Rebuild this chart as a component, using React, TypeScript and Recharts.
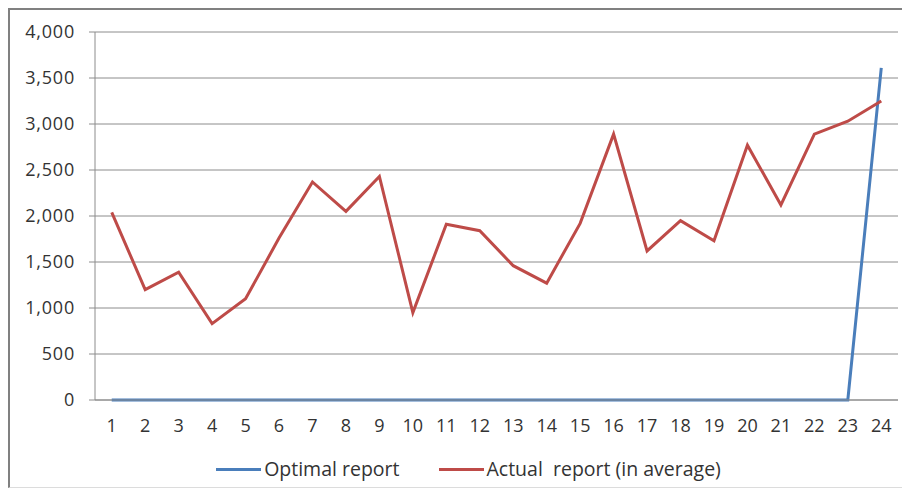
import React from 'react';
import { LineChart, Line, XAxis, YAxis, CartesianGrid } from 'recharts';

const categories = [1, 2, 3, 4, 5, 6, 7, 8, 9, 10, 11, 12, 13, 14, 15, 16, 17, 18, 19, 20, 21, 22, 23, 24];
const optimalReport = [0, 0, 0, 0, 0, 0, 0, 0, 0, 0, 0, 0, 0, 0, 0, 0, 0, 0, 0, 0, 0, 0, 0, 3610];
const actualReport = [2040, 1200, 1390, 830, 1100, 1760, 2370, 2050, 2430, 950, 1910, 1840, 1460, 1270, 1920, 2890, 1620, 1950, 1730, 2770, 2120, 2890, 3030, 3250];
const yTicks = [0, 500, 1000, 1500, 2000, 2500, 3000, 3500, 4000];
const seriesNames = ['Optimal report', 'Actual  report (in average)'];
const seriesColors = ['#4A7EBB', '#BE4B48'];

const data = categories.map((c, i) => ({ x: c, optimal: optimalReport[i], actual: actualReport[i] }));
const boundaryTicks = categories.map((c) => c - 0.5).concat(categories[categories.length - 1] + 0.5);
const xDomain = [categories[0] - 0.5, categories[categories.length - 1] + 0.5];

const FONT = '"Open Sans", sans-serif';
const TEXT = '#333333';
const GRID = '#8c8c8c';

export default function App() {
  return (
    <div
      style={{
        position: 'relative',
        width: 892,
        height: 477,
        borderLeft: '2px solid #808080',
        borderTop: '2px solid #808080',
        borderBottom: '1px solid #dcdcdc',
        fontFamily: FONT,
      }}
    >
      <LineChart width={892} height={476} data={data} margin={{ top: 22, right: 4, bottom: 56, left: 0 }}>
        <CartesianGrid xAxisId="main" vertical={false} stroke={GRID} strokeWidth={1} />
        <XAxis
          xAxisId="bounds"
          dataKey="x"
          type="number"
          domain={xDomain}
          allowDataOverflow
          ticks={boundaryTicks}
          interval={0}
          height={0}
          axisLine={false}
          tickLine={{ stroke: GRID }}
          tickSize={5}
          tickFormatter={() => ''}
        />
        <XAxis
          xAxisId="main"
          dataKey="x"
          type="number"
          domain={xDomain}
          allowDataOverflow
          ticks={categories}
          interval={0}
          height={30}
          axisLine={{ stroke: GRID }}
          tickLine={false}
          tickSize={5}
          tickMargin={14}
          tick={{ fill: TEXT, fontSize: 18, fontFamily: FONT }}
        />
        <YAxis
          width={85}
          domain={[0, 4000]}
          ticks={yTicks}
          interval={0}
          axisLine={{ stroke: GRID }}
          tickLine={{ stroke: GRID }}
          tickSize={6}
          tickMargin={14}
          tickFormatter={(v: number) => v.toLocaleString('en-US')}
          tick={{ fill: TEXT, fontSize: 18, fontFamily: FONT, letterSpacing: 0.8 }}
        />
        <Line
          xAxisId="bounds"
          dataKey="optimal"
          stroke="none"
          dot={false}
          activeDot={false}
          legendType="none"
          isAnimationActive={false}
        />
        <Line
          xAxisId="main"
          dataKey="optimal"
          name={seriesNames[0]}
          stroke={seriesColors[0]}
          strokeWidth={3}
          dot={false}
          isAnimationActive={false}
        />
        <Line
          xAxisId="main"
          dataKey="actual"
          name={seriesNames[1]}
          stroke={seriesColors[1]}
          strokeWidth={3}
          dot={false}
          isAnimationActive={false}
        />
      </LineChart>
      <div
        style={{
          position: 'absolute',
          top: 445,
          left: 0,
          width: 892,
          display: 'flex',
          justifyContent: 'center',
          paddingLeft: 25,
          boxSizing: 'border-box',
        }}
      >
        {seriesNames.map((name, i) => (
          <div key={name} style={{ display: 'flex', alignItems: 'center', marginLeft: i === 0 ? 0 : 39 }}>
            <div style={{ width: 45, height: 3, background: seriesColors[i], marginRight: 3 }} />
            <span style={{ fontSize: 19.5, color: TEXT, whiteSpace: 'pre', lineHeight: '28px' }}>{name}</span>
          </div>
        ))}
      </div>
    </div>
  );
}
